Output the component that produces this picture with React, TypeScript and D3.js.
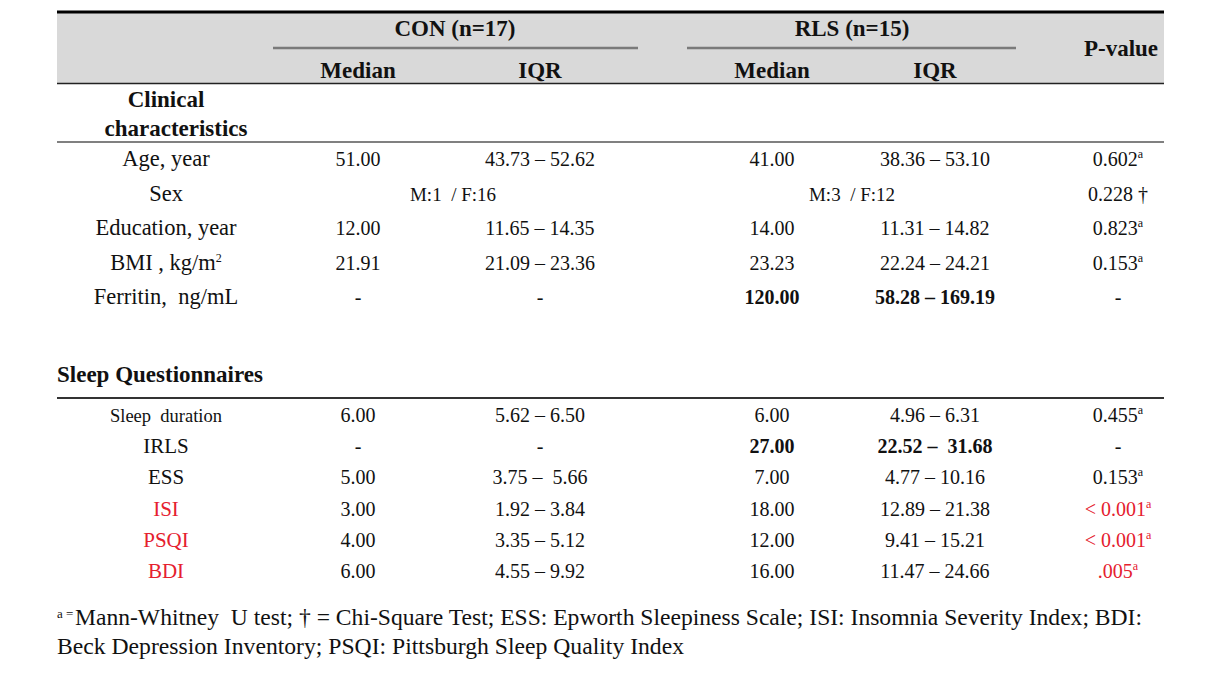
import React from "react";
import * as d3 from "d3";

// column keys
const columns = ["label", "conMed", "conIqr", "rlsMed", "rlsIqr", "p"];

// clinical characteristics
const clinicalLabels = ["Age, year", "Sex", "Education, year", "BMI , kg/m", "Ferritin,  ng/mL"];
const clinicalLabelSup = ["", "", "", "2", ""];
const clinicalConMedian = ["51.00", "", "12.00", "21.91", "-"];
const clinicalConIqr = ["43.73 – 52.62", "", "11.65 – 14.35", "21.09 – 23.36", "-"];
const clinicalRlsMedian = ["41.00", "", "14.00", "23.23", "120.00"];
const clinicalRlsIqr = ["38.36 – 53.10", "", "11.31 – 14.82", "22.24 – 24.21", "58.28 – 169.19"];
const clinicalP = ["0.602", "0.228 †", "0.823", "0.153", "-"];
const clinicalPSup = ["a", "", "a", "a", ""];
const clinicalRlsBold = [false, false, false, false, true];
const sexCon = "M:1  / F:16";
const sexRls = "M:3  / F:12";

// sleep questionnaires
const sleepLabels = ["Sleep  duration", "IRLS", "ESS", "ISI", "PSQI", "BDI"];
const sleepConMedian = ["6.00", "-", "5.00", "3.00", "4.00", "6.00"];
const sleepConIqr = ["5.62 – 6.50", "-", "3.75 –  5.66", "1.92 – 3.84", "3.35 – 5.12", "4.55 – 9.92"];
const sleepRlsMedian = ["6.00", "27.00", "7.00", "18.00", "12.00", "16.00"];
const sleepRlsIqr = ["4.96 – 6.31", "22.52 –  31.68", "4.77 – 10.16", "12.89 – 21.38", "9.41 – 15.21", "11.47 – 24.66"];
const sleepP = ["0.455", "-", "0.153", "< 0.001", "< 0.001", ".005"];
const sleepPSup = ["a", "", "a", "a", "a", "a"];
const sleepRed = [false, false, false, true, true, true];
const sleepRlsBold = [false, true, false, false, false, false];

const footnote1 = "Mann-Whitney\u00a0\u00a0U test; † = Chi-Square Test; ESS: Epworth Sleepiness Scale; ISI: Insomnia Severity Index; BDI:";
const footnote2 = "Beck Depression Inventory; PSQI: Pittsburgh Sleep Quality Index";

const RED = "#e5202e";
const FONT = "'Liberation Serif', 'Times New Roman', serif";

const Cell = ({ x, y, text, sup = "", bold = false, color = "#111", size = 20 }: any) => (
  <text x={x} y={y} textAnchor="middle" fontSize={size} fontWeight={bold ? "bold" : "normal"}
    fill={color} style={{ whiteSpace: "pre" }}>
    {text}
    {sup && <tspan fontSize={12} dy={-8}>{sup}</tspan>}
  </text>
);

const App = () => {
  const width = 1227;
  const height = 687;
  const left = 57;
  const right = 1164;

  const x = d3.scaleOrdinal<string, number>().domain(columns).range([166, 358, 540, 772, 935, 1118]);
  const yClin = d3.scalePoint().domain(clinicalLabels).range([166, 304]);
  const ySleep = d3.scalePoint().domain(sleepLabels).range([422, 578]);

  return (
    <svg width={width} height={height} fontFamily={FONT}
      style={{ position: "absolute", left: 0, top: 0, background: "#fff" }}>
      {/* header */}
      <rect x={left} y={13} width={right - left} height={70} fill="#d9d9d9" />
      <line x1={left} x2={right} y1={12} y2={12} stroke="#000" strokeWidth={3} />
      <line x1={left} x2={right} y1={83.5} y2={83.5} stroke="#222" strokeWidth={1.5} />
      <line x1={273} x2={638} y1={48} y2={48} stroke="#7a7a7a" strokeWidth={2.5} />
      <line x1={687} x2={1016} y1={48} y2={48} stroke="#7a7a7a" strokeWidth={2.5} />
      <g fontWeight="bold" fontSize={23} textAnchor="middle" fill="#111">
        <text x={455} y={36}>CON (n=17)</text>
        <text x={852} y={36}>RLS (n=15)</text>
        <text x={1121} y={56}>P-value</text>
        <text x={x("conMed")} y={78}>Median</text>
        <text x={x("conIqr")} y={78}>IQR</text>
        <text x={x("rlsMed")} y={78}>Median</text>
        <text x={x("rlsIqr")} y={78}>IQR</text>
      </g>

      {/* clinical section */}
      <g fontWeight="bold" fontSize={23} textAnchor="middle" fill="#111">
        <text x={166} y={107}>Clinical</text>
        <text x={176} y={136}>characteristics</text>
      </g>
      <line x1={left} x2={right} y1={142} y2={142} stroke="#808080" strokeWidth={2} />
      {clinicalLabels.map((lab, i) => {
        const y = yClin(lab)!;
        return (
          <g key={lab}>
            <Cell x={x("label")} y={y} text={lab} sup={clinicalLabelSup[i]} size={22.5} />
            {lab === "Sex" ? (
              <>
                <Cell x={453} y={y} text={sexCon} size={19} />
                <Cell x={852} y={y} text={sexRls} size={19} />
              </>
            ) : (
              <>
                <Cell x={x("conMed")} y={y} text={clinicalConMedian[i]} />
                <Cell x={x("conIqr")} y={y} text={clinicalConIqr[i]} />
                <Cell x={x("rlsMed")} y={y} text={clinicalRlsMedian[i]} bold={clinicalRlsBold[i]} />
                <Cell x={x("rlsIqr")} y={y} text={clinicalRlsIqr[i]} bold={clinicalRlsBold[i]} />
              </>
            )}
            <Cell x={x("p")} y={y} text={clinicalP[i]} sup={clinicalPSup[i]} size={20} />
          </g>
        );
      })}

      {/* sleep section */}
      <text x={left} y={382} fontWeight="bold" fontSize={23} fill="#111">Sleep Questionnaires</text>
      <line x1={left} x2={right} y1={398} y2={398} stroke="#333" strokeWidth={2} />
      {sleepLabels.map((lab, i) => {
        const y = ySleep(lab)!;
        const c = sleepRed[i] ? RED : "#111";
        return (
          <g key={lab}>
            <Cell x={x("label")} y={y} text={lab} color={c} size={i === 0 ? 18.5 : 21} />
            <Cell x={x("conMed")} y={y} text={sleepConMedian[i]} />
            <Cell x={x("conIqr")} y={y} text={sleepConIqr[i]} />
            <Cell x={x("rlsMed")} y={y} text={sleepRlsMedian[i]} bold={sleepRlsBold[i]} />
            <Cell x={x("rlsIqr")} y={y} text={sleepRlsIqr[i]} bold={sleepRlsBold[i]} />
            <Cell x={x("p")} y={y} text={sleepP[i]} sup={sleepPSup[i]} color={c} size={20} />
          </g>
        );
      })}

      {/* footnote */}
      <g fontSize={23} fill="#111">
        <text x={left} y={625}>
          <tspan fontSize={13} dy={-7}>a =</tspan>
          <tspan dy={7} x={75} textLength={1142 - 75} lengthAdjust="spacingAndGlyphs">{footnote1}</tspan>
        </text>
        <text x={left} y={654} textLength={684 - left} lengthAdjust="spacingAndGlyphs">{footnote2}</text>
      </g>
    </svg>
  );
};

export default App;
